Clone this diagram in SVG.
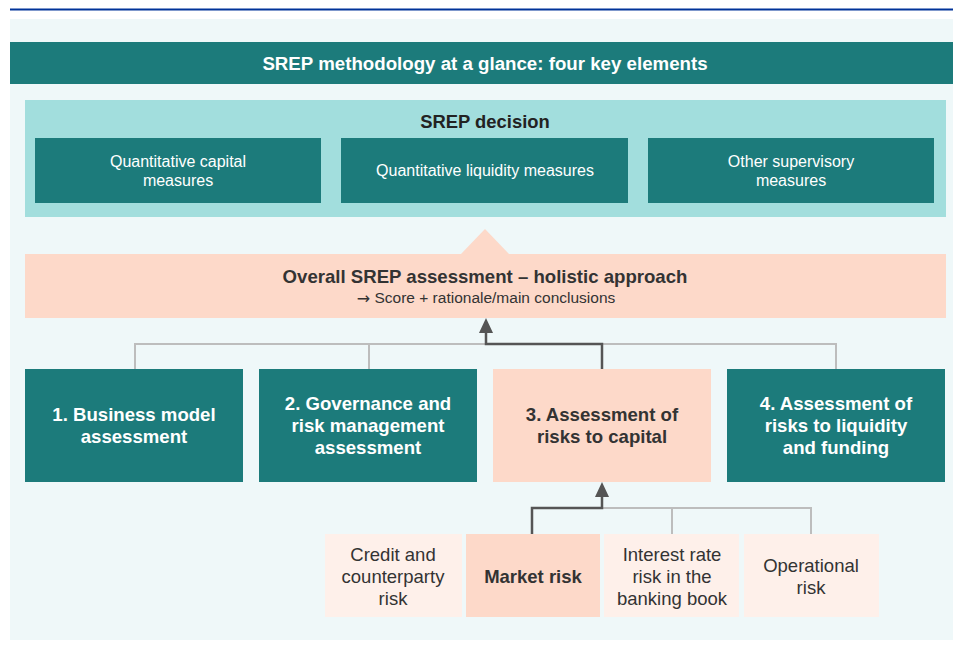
<svg xmlns="http://www.w3.org/2000/svg" width="953" height="646" viewBox="0 0 953 646">
<defs>
<style>
text{font-family:"Liberation Sans",Arial,sans-serif;text-anchor:middle;dominant-baseline:central}
.teal{fill:#1c7b7b}
.peach{fill:#fdd9c9}
.lpeach{fill:#fef0ea}
.wt{fill:#ffffff;font-size:16px}
.wb{fill:#ffffff;font-size:18.6px;font-weight:bold}
.db{fill:#333333;font-size:18.6px;font-weight:bold}
.dt{fill:#333333;font-size:18.5px}
.gray{fill:none;stroke:#bdbdbd;stroke-width:2}
.dark{fill:none;stroke:#555555;stroke-width:2.5}
</style>
</defs>
<rect x="0" y="0" width="953" height="646" fill="#ffffff"/>
<line x1="10" y1="9.5" x2="953" y2="9.5" stroke="#003399" stroke-width="2"/>
<rect x="10" y="19" width="943" height="621" fill="#eff8f9"/>
<g id="title">
<rect x="10" y="42" width="943" height="42" class="teal"/>
<text x="485" y="63.5" fill="#ffffff" font-size="18.7" font-weight="bold">SREP methodology at a glance: four key elements</text>
</g>
<g id="srep-decision">
<rect x="25" y="100" width="921" height="117" fill="#a2dedd"/>
<text x="485" y="121.5" fill="#222222" font-size="18.4" font-weight="bold">SREP decision</text>
</g>
<g id="quant-capital">
<rect x="35" y="138" width="286" height="65" class="teal"/>
<text class="wt" x="178" y="161.5">Quantitative capital</text>
<text class="wt" x="178" y="180.5">measures</text>
</g>
<g id="quant-liquidity">
<rect x="341" y="138" width="287" height="65" class="teal"/>
<text class="wt" x="485" y="170.5">Quantitative liquidity measures</text>
</g>
<g id="other-measures">
<rect x="648" y="138" width="286" height="65" class="teal"/>
<text class="wt" x="791" y="161.5">Other supervisory</text>
<text class="wt" x="791" y="180.5">measures</text>
</g>
<g id="overall">
<polygon points="485,229 509,254 461,254" class="peach"/>
<rect x="25" y="254" width="921" height="64" class="peach"/>
<text x="485" y="276.5" fill="#333333" font-size="18.6" font-weight="bold">Overall SREP assessment – holistic approach</text>
<text x="486" y="297.5" fill="#333333" font-size="15.5"><tspan font-family="'DejaVu Sans',sans-serif" font-size="16">→</tspan> Score + rationale/main conclusions</text>
</g>
<g id="connectors">
<polyline class="gray" points="135,369 135,344 836,344 836,369"/>
<line class="gray" x1="369" y1="344" x2="369" y2="369"/>
<polyline class="dark" points="602,369 602,344 486,344 486,330"/>
<polygon points="486,318 479,333 493,333" fill="#555555"/>
<polyline class="gray" points="602,508 811,508 811,534"/>
<line class="gray" x1="672" y1="508" x2="672" y2="534"/>
<polyline class="dark" points="532,534 532,508 602,508 602,494"/>
<polygon points="602,482 595,497 609,497" fill="#555555"/>
</g>
<g id="business-model">
<rect x="25" y="369" width="218" height="113" class="teal"/>
<text class="wb" x="134" y="414.5">1. Business model</text>
<text class="wb" x="134" y="436.5">assessment</text>
</g>
<g id="governance">
<rect x="259" y="369" width="218" height="113" class="teal"/>
<text class="wb" x="368" y="403.5">2. Governance and</text>
<text class="wb" x="368" y="425.5">risk management</text>
<text class="wb" x="368" y="447.5">assessment</text>
</g>
<g id="risks-capital">
<rect x="493" y="369" width="218" height="113" class="peach"/>
<text class="db" x="602" y="414.5">3. Assessment of</text>
<text class="db" x="602" y="436.5">risks to capital</text>
</g>
<g id="risks-liquidity">
<rect x="727" y="369" width="218" height="113" class="teal"/>
<text class="wb" x="836" y="403.5">4. Assessment of</text>
<text class="wb" x="836" y="425.5">risks to liquidity</text>
<text class="wb" x="836" y="447.5">and funding</text>
</g>
<g id="credit-risk">
<rect x="325" y="534" width="137" height="83" class="lpeach"/>
<text class="dt" x="393" y="554.5">Credit and</text>
<text class="dt" x="393" y="576.5">counterparty</text>
<text class="dt" x="393" y="598.5">risk</text>
</g>
<g id="market-risk">
<rect x="466" y="534" width="134" height="83" class="peach"/>
<text class="dt" x="533" y="576.5" font-weight="bold">Market risk</text>
</g>
<g id="irrbb">
<rect x="604" y="534" width="135" height="83" class="lpeach"/>
<text class="dt" x="672" y="554.5">Interest rate</text>
<text class="dt" x="672" y="576.5">risk in the</text>
<text class="dt" x="672" y="598.5">banking book</text>
</g>
<g id="operational-risk">
<rect x="744" y="534" width="135" height="83" class="lpeach"/>
<text class="dt" x="811" y="565.5">Operational</text>
<text class="dt" x="811" y="587.5">risk</text>
</g>
</svg>
